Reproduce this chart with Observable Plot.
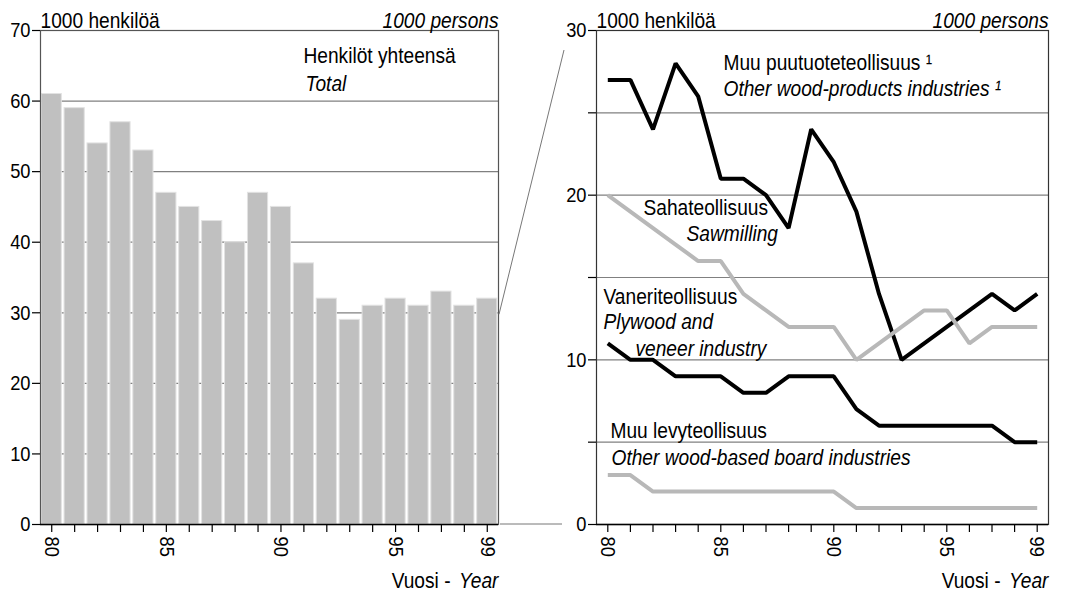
<!DOCTYPE html>
<html>
<head>
<meta charset="utf-8">
<script src="https://cdn.jsdelivr.net/npm/d3@7"></script>
<script src="https://cdn.jsdelivr.net/npm/@observablehq/plot@0.6"></script>
<style>
  html, body { margin: 0; padding: 0; background: white; }
  #wrap { position: relative; width: 1066px; height: 594px; overflow: hidden; background: white; }
  #wrap > svg { position: absolute; top: 0; }
</style>
</head>
<body>
<div id="wrap"></div>
<script>
// ---- data ----
const years = [1980, 1981, 1982, 1983, 1984, 1985, 1986, 1987, 1988, 1989,
               1990, 1991, 1992, 1993, 1994, 1995, 1996, 1997, 1998, 1999];
const labelYears = [1980, 1985, 1990, 1995, 1999];
const total = [61, 59, 54, 57, 53, 47, 45, 43, 40, 47, 45, 37, 32, 29, 31, 32, 31, 33, 31, 32];
const otherWoodProducts = [27, 27, 24, 28, 26, 21, 21, 20, 18, 24, 22, 19, 14, 10, 11, 12, 13, 14, 13, 14];
const sawmilling = [20, 19, 18, 17, 16, 16, 14, 13, 12, 12, 12, 10, 11, 12, 13, 13, 11, 12, 12, 12];
const plywood = [11, 10, 10, 9, 9, 9, 8, 8, 9, 9, 9, 7, 6, 6, 6, 6, 6, 6, 5, 5];
const otherBoard = [3, 3, 2, 2, 2, 2, 2, 2, 2, 2, 2, 1, 1, 1, 1, 1, 1, 1, 1, 1];
const leftTicks = [0, 10, 20, 30, 40, 50, 60, 70];
const leftGrid = [10, 20, 30, 40, 50, 60];
const rightTicks = [0, 5, 10, 15, 20, 25, 30];
const rightGrid = [5, 10, 15, 20, 25];

const FONT = "'Liberation Sans Narrow', 'Arial Narrow', 'Liberation Sans', Arial, sans-serif";
const FS = 22;
const TICKFS = 21;
const CONDENSE = 0.87;
const wrap = document.getElementById("wrap");

const totalData = years.map((y, i) => ({year: y, value: total[i]}));
const series = [
  {name: "other", values: otherWoodProducts, color: "black"},
  {name: "saw", values: sawmilling, color: "#b8b8b8"},
  {name: "ply", values: plywood, color: "black"},
  {name: "board", values: otherBoard, color: "#b8b8b8"}
];
const lineData = series.flatMap(s => years.map((y, i) => ({series: s.name, year: y, value: s.values[i], color: s.color})));

const yr = d => String(d).slice(2);
const label = (txt, dx, dy, italic) =>
  Plot.text([txt], {frameAnchor: "top-left", dx, dy, textAnchor: "start", lineAnchor: "middle",
                    fontStyle: italic ? "italic" : "normal"});

function common() {
  return [
    Plot.text(["Year"], {frameAnchor: "bottom-right", dy: 56, lineAnchor: "middle", fontStyle: "italic", textAnchor: "end"}),
    Plot.text(["Vuosi -"], {frameAnchor: "bottom-right", dy: 56, dx: -48, lineAnchor: "middle", textAnchor: "end"}),
    Plot.text(["1000 henkilöä"], {frameAnchor: "top-left", dy: -10, lineAnchor: "middle", textAnchor: "start"}),
    Plot.text(["1000 persons"], {frameAnchor: "top-right", dy: -10, lineAnchor: "middle", fontStyle: "italic", textAnchor: "end"})
  ];
}

// ---- left panel ----
const left = Plot.plot({
  width: 530, height: 594,
  marginLeft: 40, marginRight: 32, marginTop: 30, marginBottom: 70,
  style: {fontFamily: FONT, fontSize: FS + "px", color: "black", background: "white", overflow: "visible"},
  x: {type: "band", domain: years, paddingInner: 0.12, paddingOuter: 0.05, round: false, label: null},
  y: {domain: [0, 70], label: null},
  marks: [
    Plot.ruleY(leftGrid, {stroke: "#808080", strokeWidth: 1.2}),
    Plot.barY(totalData, {x: "year", y: "value", fill: "#c0c0c0", stroke: "#e2e2e2", strokeWidth: 1}),
    Plot.frame({stroke: "#555", strokeWidth: 1.2}),
    Plot.ruleY([0], {stroke: "black", strokeWidth: 1.5}),
    Plot.axisY({ticks: leftTicks, tickSize: 8, tickPadding: 2, label: null, line: true, strokeWidth: 1.2, fontSize: TICKFS}),
    Plot.axisX({ticks: years, tickSize: 8, tickPadding: 4, tickRotate: 90, label: null, fontSize: TICKFS,
                tickFormat: d => labelYears.includes(d) ? yr(d) : "", strokeWidth: 1.2}),
    label("Henkilöt yhteensä", 263, 25, false),
    label("Total", 265, 53, true),
    ...common()
  ]
});
left.style.left = "0px";
wrap.appendChild(left);

// ---- right panel ----
const right = Plot.plot({
  width: 536, height: 594,
  marginLeft: 66, marginRight: 18, marginTop: 30, marginBottom: 70,
  style: {fontFamily: FONT, fontSize: FS + "px", color: "black", background: "transparent", overflow: "visible"},
  x: {type: "point", domain: years, padding: 0.5, round: false, label: null},
  y: {domain: [0, 30], label: null},
  marks: [
    Plot.ruleY(rightGrid, {stroke: "#808080", strokeWidth: 1.2}),
    Plot.line(lineData, {x: "year", y: "value", z: "series", stroke: "color", strokeWidth: 4, strokeLinejoin: "miter", strokeLinecap: "butt"}),
    Plot.frame({stroke: "#333", strokeWidth: 1.2}),
    Plot.ruleY([0], {stroke: "black", strokeWidth: 1.5}),
    Plot.axisY({ticks: rightTicks, tickSize: 8, tickPadding: 2, label: null, line: true, strokeWidth: 1.2, fontSize: TICKFS,
                tickFormat: d => d % 10 === 0 ? String(d) : ""}),
    Plot.axisX({ticks: years, tickSize: 8, tickPadding: 4, tickRotate: 90, label: null, fontSize: TICKFS,
                tickFormat: d => labelYears.includes(d) ? yr(d) : "", strokeWidth: 1.2}),
    label("Muu puutuoteteollisuus ¹", 127, 32, false),
    label("Other wood-products industries ¹", 127, 58, true),
    label("Sahateollisuus", 47, 177, false),
    label("Sawmilling", 90, 203, true),
    label("Vaneriteollisuus", 7, 266, false),
    label("Plywood and", 7, 291, true),
    label("veneer industry", 39, 318, true),
    label("Muu levyteollisuus", 14, 400, false),
    label("Other wood-based board industries", 15, 427, true),
    ...common()
  ]
});
const RIGHT_OFFSET = 530;
right.style.left = RIGHT_OFFSET + "px";
wrap.appendChild(right);

// ---- emulate a narrow typeface: condense every text horizontally ----
wrap.querySelectorAll("text").forEach(t => {
  if (!t.textContent || t.querySelector("tspan")) return;
  const w = t.getComputedTextLength();
  if (w > 0) {
    t.setAttribute("textLength", (w * CONDENSE).toFixed(2));
    t.setAttribute("lengthAdjust", "spacingAndGlyphs");
  }
});

// ---- connector lines (zoom from the left panel to the right panel) ----
const ly = left.scale("y"), lx = left.scale("x"), ry = right.scale("y");
const lRight = lx.range[1];
const rLeft = RIGHT_OFFSET + 66;
const ns = "http://www.w3.org/2000/svg";
const ov = document.createElementNS(ns, "svg");
ov.setAttribute("width", 1066); ov.setAttribute("height", 594);
ov.style.left = "0px"; ov.style.pointerEvents = "none";
const mk = (x1, y1, x2, y2) => {
  const l = document.createElementNS(ns, "line");
  l.setAttribute("x1", x1); l.setAttribute("y1", y1); l.setAttribute("x2", x2); l.setAttribute("y2", y2);
  l.setAttribute("stroke", "#777"); l.setAttribute("stroke-width", 1);
  ov.appendChild(l);
};
mk(lRight + 1, ly.apply(30) + 2, rLeft - 32, ry.apply(30) + 20);
mk(lRight + 2, ly.apply(0), rLeft - 34, ry.apply(0));
wrap.appendChild(ov);
</script>
</body>
</html>
